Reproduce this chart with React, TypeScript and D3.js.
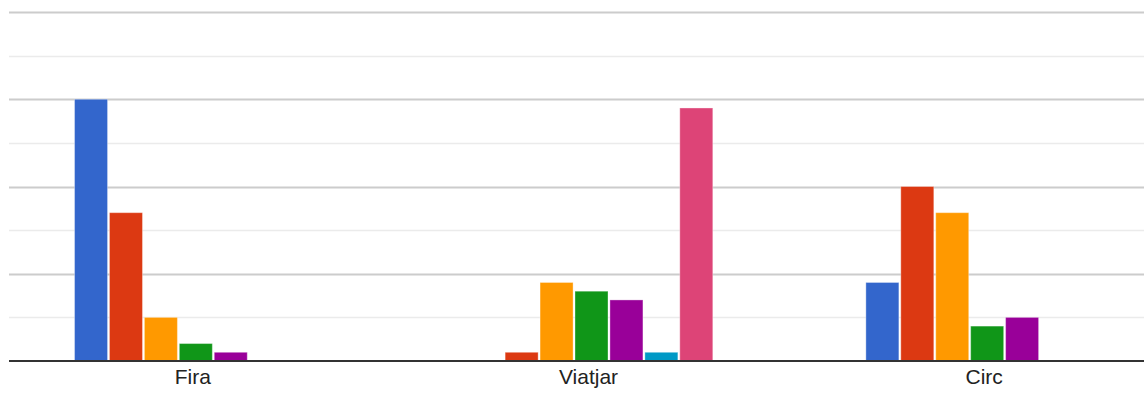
import React from "react";
import * as d3 from "d3";

const categories = ["Fira", "Viatjar", "Circ"];
const seriesNames = ["S1", "S2", "S3", "S4", "S5", "S6", "S7"];
const seriesColors = ["#3366cc", "#dc3912", "#ff9900", "#109618", "#990099", "#0099c6", "#dd4477"];
// values per series, one entry per category
const s1 = [30, 0, 9];
const s2 = [17, 1, 20];
const s3 = [5, 9, 17];
const s4 = [2, 8, 4];
const s5 = [1, 7, 5];
const s6 = [0, 1, 0];
const s7 = [0, 29, 0];
const seriesValues = [s1, s2, s3, s4, s5, s6, s7];
const yTicks = [0, 5, 10, 15, 20, 25, 30, 35, 40];

const W = 1144;
const H = 394;

export default function App() {
  const y = d3.scaleLinear().domain([0, 40]).range([361, 12]);
  const x0 = d3.scaleBand<string>().domain(categories).range([-2, 1185]).paddingInner(0).paddingOuter(0);
  const bw = x0.bandwidth();
  const gw = bw * 0.618;
  const off = (bw - gw) / 2;
  const x1 = d3
    .scaleBand<string>()
    .domain(seriesNames)
    .range([0, gw])
    .paddingInner(0.055)
    .paddingOuter(0.0275);
  const gridLeft = 9;
  const gridRight = W;

  return (
    <svg
      width={W}
      height={H}
      style={{ position: "absolute", left: 0, top: 0, background: "#fff" }}
      fontFamily="'Liberation Sans', Arial, sans-serif"
    >
      {yTicks.map((t) =>
        t === 0 ? null : (
          <line
            key={t}
            x1={gridLeft}
            x2={gridRight}
            y1={Math.round(y(t)) + 0.5}
            y2={Math.round(y(t)) + 0.5}
            stroke={t % 10 === 0 ? "#cccccc" : "#ebebeb"}
            strokeWidth={t % 10 === 0 ? 2 : 1.5}
          />
        )
      )}
      {categories.map((c, ci) => (
        <g key={c} transform={`translate(${(x0(c) ?? 0) + off},0)`}>
          {seriesNames.map((s, si) => {
            const v = seriesValues[si][ci];
            if (!v) return null;
            const top = y(v);
            return (
              <rect
                key={s}
                x={x1(s) ?? 0}
                y={top}
                width={x1.bandwidth()}
                height={y(0) - top}
                fill={seriesColors[si]}
                stroke="#ffffff"
                strokeOpacity={0.35}
                strokeWidth={1}
              />
            );
          })}
        </g>
      ))}
      <line x1={gridLeft} x2={gridRight} y1={361} y2={361} stroke="#333333" strokeWidth={2} />
      {categories.map((c) => (
        <text
          key={c}
          x={(x0(c) ?? 0) + bw / 2 - 3}
          y={384}
          textAnchor="middle"
          fontSize={21}
          fill="#222222"
        >
          {c}
        </text>
      ))}
    </svg>
  );
}
